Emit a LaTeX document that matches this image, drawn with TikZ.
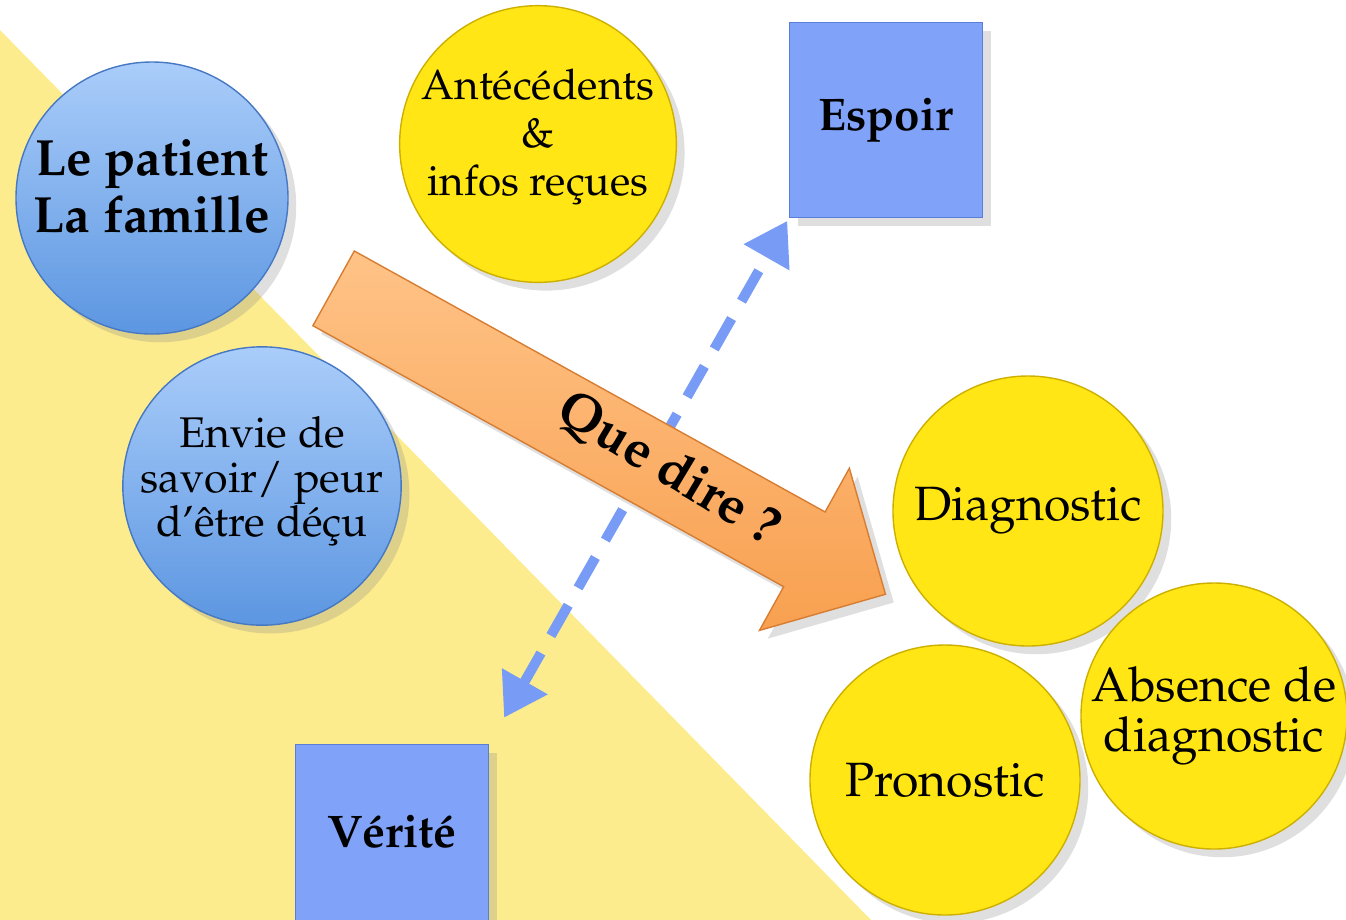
\documentclass[tikz,border=0pt]{standalone}
\usepackage[T1]{fontenc}
\renewcommand{\rmdefault}{ppl}
\usetikzlibrary{shapes.arrows,arrows.meta,shadows}

\definecolor{fondjaune}{RGB}{252,236,142}
\definecolor{bleuhaut}{RGB}{170,205,250}
\definecolor{bleubas}{RGB}{92,150,225}
\definecolor{bleubord}{RGB}{70,120,195}
\definecolor{jaune}{RGB}{255,230,20}
\definecolor{jaunebord}{RGB}{205,175,0}
\definecolor{carre}{RGB}{128,162,248}
\definecolor{carrebord}{RGB}{90,125,215}
\definecolor{tiret}{RGB}{120,155,245}
\definecolor{orangehaut}{RGB}{255,195,135}
\definecolor{orangebas}{RGB}{248,160,80}
\definecolor{orangebord}{RGB}{215,125,50}

\begin{document}
\begin{tikzpicture}[x=0.1mm, y=-0.1mm,
bluenode/.style={circle, draw=bleubord, top color=bleuhaut, bottom color=bleubas, minimum size=27.2mm, inner sep=0pt, align=center, drop shadow={opacity=0.25}},
yellownode/.style={circle, draw=jaunebord, fill=jaune, minimum size=27mm, inner sep=0pt, align=center, font=\fontsize{13.7}{14.2}\selectfont, drop shadow={opacity=0.25}},
squarenode/.style={rectangle, draw=carrebord, fill=carre, minimum width=19.3mm, minimum height=19.5mm, font=\bfseries\fontsize{13}{14}\selectfont, drop shadow={opacity=0.25}}
]
    \useasboundingbox (0,0) rectangle (1346,919);
    \fill [fondjaune] (0,30) -- (872,921) -- (0,921) -- cycle;

    \node [bluenode, text depth=2.4mm, font=\bfseries\fontsize{14.5}{16.4}\selectfont] (patient) at (152,198) {Le patient\\La famille};
    \node [bluenode, minimum size=27mm, text depth=1.9mm, font=\fontsize{12.2}{12.6}\selectfont] (envie) at (262,486) {Envie de\\savoir/ peur\\d'\^etre d\'e\c{c}u};
    \node [yellownode, minimum size=27.4mm, text depth=2.4mm, font=\fontsize{12}{13.6}\selectfont] (antecedents) at (538,144) {Ant\'ec\'edents\\\&\\infos re\c{c}ues};

    \node [squarenode] (espoir) at (886,120) {Espoir};
    \node [squarenode, text depth=2.2mm] (verite) at (392,842) {V\'erit\'e};

    \draw [tiret, line width=1mm, dash pattern=on 3.5mm off 2mm, {Triangle[length=4.2mm,width=5mm]}-{Triangle[length=4.2mm,width=5mm]}, shorten <=3mm, shorten >=0.3mm] (verite.north east) -- (espoir.south west);

    \node [single arrow, rotate=-29, anchor=tail, minimum height=63.1mm, text height=4.2mm, text depth=4.2mm, single arrow head extend=5mm, inner sep=0pt, top color=orangehaut, bottom color=orangebas, draw=orangebord, drop shadow={opacity=0.25}] (fleche) at (333,288) {};
    \node [rotate=-31, font=\bfseries\fontsize{15}{15}\selectfont] (quedire) at (668,470) {Que dire ?};

    \node [yellownode] (diagnostic) at (1028,511) {Diagnostic};
    \node [yellownode] (pronostic) at (945,780) {Pronostic};
    \node [yellownode, minimum size=26.6mm] (absence) at (1214,716) {Absence de\\diagnostic};
\end{tikzpicture}
\end{document}
